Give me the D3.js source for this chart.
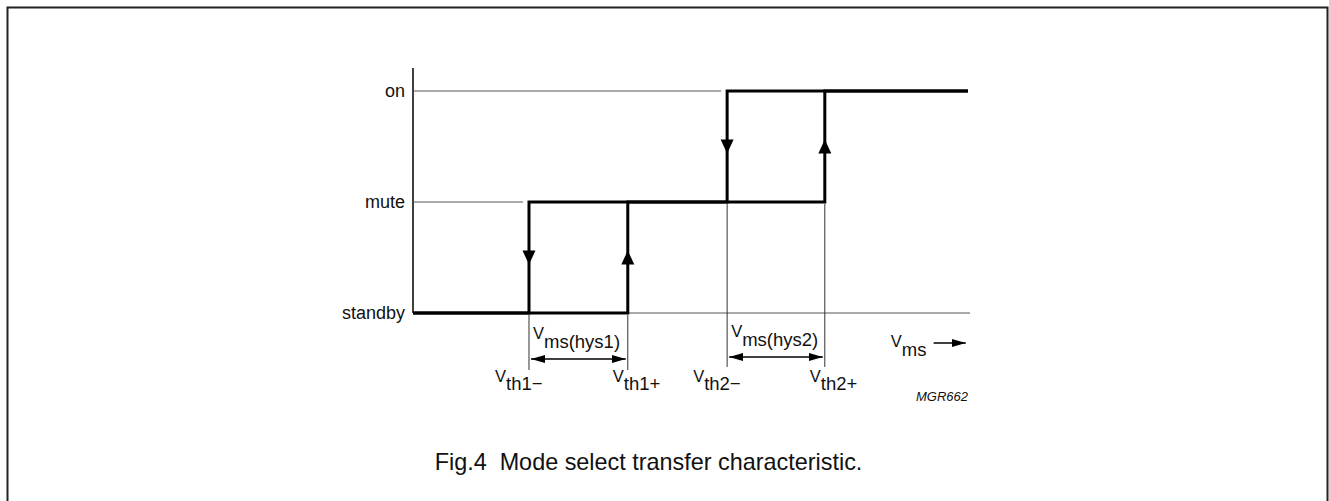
<!DOCTYPE html>
<html>
<head>
<meta charset="utf-8">
<script src="https://cdn.jsdelivr.net/npm/d3@7"></script>
<style>
  html, body { margin: 0; padding: 0; background: #fff; }
  text { font-family: "Liberation Sans", Arial, sans-serif; fill: #111; white-space: pre; }
</style>
</head>
<body>
<svg id="chart" width="1329" height="501"></svg>
<script>
// modes on the vertical axis (bottom to top)
const modes = ["standby", "mute", "on"];

// switching thresholds along Vms (arbitrary units 0..100)
const thresholds = [
    { name: "th1\u2212", v: 20.9, rising: false },
    { name: "th1+", v: 38.7, rising: true },
    { name: "th2\u2212", v: 56.6, rising: false },
    { name: "th2+", v: 74.2, rising: true }
];
const vmsMax = 100;

// rising Vms path and falling Vms path
const risingPath = [[0, "standby"], [38.7, "standby"], [38.7, "mute"], [74.2, "mute"], [74.2, "on"], [100, "on"]];
const fallingPath = [[100, "on"], [56.6, "on"], [56.6, "mute"], [20.9, "mute"], [20.9, "standby"], [0, "standby"]];

// hysteresis bands
const hysteresis = [
    { label: "ms(hys1)", from: 20.9, to: 38.7 },
    { label: "ms(hys2)", from: 56.6, to: 74.2 }
];

const svg = d3.select("#chart");

// frame (open at the bottom)
svg.append("path")
    .attr("d", "M7.5,501V7.5H1327.5V501")
    .attr("fill", "none")
    .attr("stroke", "#222")
    .attr("stroke-width", 2);

const x = d3.scaleLinear().domain([0, vmsMax]).range([413, 968]);
const y = d3.scalePoint().domain(modes).range([313, 91]);

const defs = svg.append("defs");
defs.append("marker")
    .attr("id", "head")
    .attr("viewBox", "0 0 14 8")
    .attr("refX", 14).attr("refY", 4)
    .attr("markerWidth", 14).attr("markerHeight", 8)
    .attr("markerUnits", "userSpaceOnUse")
    .attr("orient", "auto-start-reverse")
    .append("path").attr("d", "M0,0L14,4L0,8Z").attr("fill", "#000");

// y axis: labels only, line drawn separately so it reaches above "on"
const yAxis = svg.append("g")
    .attr("transform", `translate(${x(0)},0)`)
    .call(d3.axisLeft(y).tickSize(0).tickPadding(8));
yAxis.select(".domain").remove();
yAxis.selectAll("text")
    .style("font-family", "'Liberation Sans', Arial, sans-serif")
    .style("font-size", "18px")
    .attr("fill", "#111");

svg.append("line")
    .attr("x1", x(0)).attr("x2", x(0))
    .attr("y1", y("on") - 23).attr("y2", y("standby"))
    .attr("stroke", "#000").attr("stroke-width", 1.5);

// thin reference lines at each level
const thin = [
    [[0, "on"], [56.6, "on"], -6],
    [[0, "mute"], [20.9, "mute"], -6],
    [[38.7, "standby"], [vmsMax, "standby"], 2]
];
thin.forEach(([a, b, pad]) => {
    svg.append("line")
        .attr("x1", x(a[0])).attr("x2", x(b[0]) + pad)
        .attr("y1", y(a[1])).attr("y2", y(b[1]))
        .attr("stroke", "#555").attr("stroke-width", 1);
});

// thin drop lines at thresholds
thresholds.forEach((t, i) => {
    const top = i < 2 ? y("standby") : y("mute");
    svg.append("line")
        .attr("x1", x(t.v)).attr("x2", x(t.v))
        .attr("y1", top + 2).attr("y2", i < 2 ? 370 : 367)
        .attr("stroke", "#333").attr("stroke-width", 1);
});

// transfer characteristic
const line = d3.line().x(d => x(d[0])).y(d => y(d[1]));
[risingPath, fallingPath].forEach(p => {
    svg.append("path")
        .attr("d", line(p))
        .attr("fill", "none")
        .attr("stroke", "#000")
        .attr("stroke-width", 3)
        .attr("stroke-linejoin", "miter");
});

// direction arrowheads on the vertical steps
const steps = [
    { v: 20.9, lo: "standby", hi: "mute", dir: 1 },
    { v: 38.7, lo: "standby", hi: "mute", dir: -1 },
    { v: 56.6, lo: "mute", hi: "on", dir: 1 },
    { v: 74.2, lo: "mute", hi: "on", dir: -1 }
];
steps.forEach(s => {
    const cx = x(s.v);
    const cy = (y(s.lo) + y(s.hi)) / 2;
    const tip = cy + 7 * s.dir, base = cy - 7 * s.dir;
    svg.append("path")
        .attr("d", `M${cx - 6.5},${base}L${cx + 6.5},${base}L${cx},${tip}Z`)
        .attr("fill", "#000");
});

// hysteresis dimension arrows and labels
hysteresis.forEach((h, i) => {
    const yy = i === 0 ? 359 : 357;
    svg.append("line")
        .attr("x1", x(h.from) + 2).attr("x2", x(h.to) - 2)
        .attr("y1", yy).attr("y2", yy)
        .attr("stroke", "#000").attr("stroke-width", 1.3)
        .attr("marker-start", "url(#head)")
        .attr("marker-end", "url(#head)");
    const t = svg.append("text")
        .attr("x", x(h.from) + 4)
        .attr("y", yy - 20);
    t.append("tspan").style("font-size", "16.5px").text("V");
    t.append("tspan").style("font-size", "18.5px").attr("dy", 9).text(h.label);
});

// threshold labels
thresholds.forEach(t => {
    const tx = svg.append("text")
        .attr("x", x(t.v) + (t.rising ? -15 : -34))
        .attr("y", 382);
    tx.append("tspan").style("font-size", "16.5px").text("V");
    tx.append("tspan").style("font-size", "18.5px").attr("dy", 8).text(t.name);
});

// Vms axis label with arrow
const vl = svg.append("text").attr("x", x(86.1)).attr("y", 347);
vl.append("tspan").style("font-size", "16.5px").text("V");
vl.append("tspan").style("font-size", "18.5px").attr("dy", 9).text("ms");
svg.append("line")
    .attr("x1", x(93.8)).attr("x2", x(99.6))
    .attr("y1", 343).attr("y2", 343)
    .attr("stroke", "#000").attr("stroke-width", 1.4)
    .attr("marker-end", "url(#head)");

svg.append("text")
    .attr("x", x(vmsMax)).attr("y", 401)
    .attr("text-anchor", "end")
    .style("font-size", "13px")
    .style("font-style", "italic")
    .text("MGR662");

svg.append("text")
    .attr("x", 648.5).attr("y", 470)
    .attr("text-anchor", "middle")
    .style("font-size", "23.4px")
    .text("Fig.4  Mode select transfer characteristic.");
</script>
</body>
</html>
